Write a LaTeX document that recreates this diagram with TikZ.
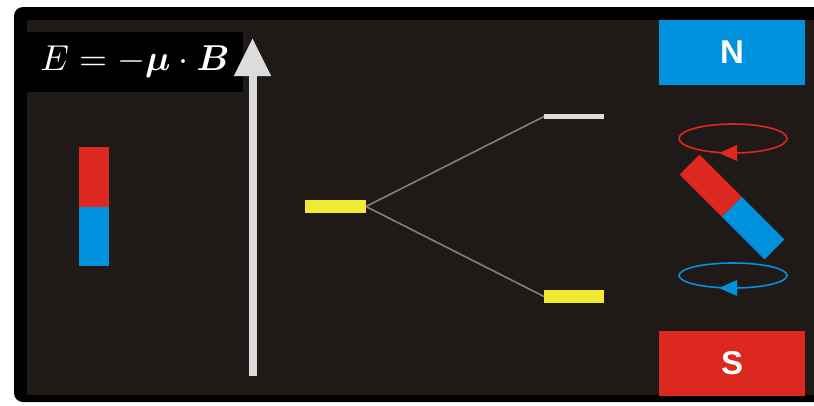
\documentclass[tikz,border=0pt]{standalone}
\usepackage{fontspec}
\usepackage{amsmath}
\usepackage{bm}
\usepackage{graphicx}
\newfontfamily\polefont{Liberation Sans}
\usetikzlibrary{arrows.meta}

\definecolor{panel}{RGB}{31,26,23}
\definecolor{magred}{RGB}{220,40,30}
\definecolor{magblue}{RGB}{0,146,221}
\definecolor{levelyellow}{RGB}{240,235,50}
\definecolor{fieldgray}{RGB}{220,220,220}
\definecolor{splitgray}{RGB}{130,128,125}

\begin{document}
\begin{tikzpicture}[x=1pt,y=-1pt,
  block/.style={rectangle,inner sep=0pt,outer sep=0pt,draw=none},
  level/.style={block,fill=levelyellow,minimum width=60pt,minimum height=13pt},
  pole/.style={block,minimum width=146pt,minimum height=65pt,text=white,
    font=\polefont\bfseries\fontsize{33}{36}\selectfont},
  split/.style={splitgray,line width=1.6pt},
  orbit/.style={line width=1.6pt}]
  \useasboundingbox (0,0) rectangle (814,405);

  % frame and dark panel
  \fill[black,rounded corners=9pt] (14,7) rectangle (840,402);
  \fill[panel] (27,20) rectangle (814,395);

  % energy formula
  \node[block,fill=black,minimum width=216pt,minimum height=60pt,anchor=north west]
    (formula) at (27,32) {};
  \node[text=white,inner sep=0pt] (eq) at (135,62)
    {\scalebox{3.6}{$E = -\bm{\mu}\cdot\bm{B}$}};

  % field axis arrow
  \coordinate (fieldbase) at (252.5,376);
  \coordinate (fieldtip) at (252.5,38);
  \draw[fieldgray,line width=8pt,-{Triangle[width=35pt,length=38pt]}]
    (fieldbase) -- (fieldtip);

  % bar magnet on the left
  \node[block,fill=magred,minimum width=30pt,minimum height=60pt] (barN) at (94,177) {};
  \node[block,fill=magblue,minimum width=30pt,minimum height=59pt,anchor=north] (barS) at (barN.south) {};

  % energy levels and their splitting
  \node[level,minimum width=61pt] (lvl0) at (335.5,206.5) {};
  \node[block,fill=fieldgray,minimum width=60pt,minimum height=5pt] (lvlup) at (574,116.5) {};
  \node[level] (lvldown) at (574,296.5) {};
  \draw[split] (lvl0.east) -- (lvlup.west);
  \draw[split] (lvl0.east) -- (lvldown.west);

  % magnet poles
  \node[pole,fill=magblue] (north) at (732,52.5) {N};
  \node[pole,fill=magred] (south) at (732,363) {S};

  % precessing tilted magnet
  \node[block,fill=magred,minimum width=60pt,minimum height=28pt,rotate=-45] (tiltN) at (710.8,185.8) {};
  \node[block,fill=magblue,minimum width=60pt,minimum height=28pt,rotate=-45] (tiltS) at (753.2,228.2) {};

  % precession orbits
  \draw[magred,orbit] (733,138.5) ellipse [x radius=54pt,y radius=14.5pt];
  \fill[magred] (719,153) -- (737,145) -- (737,161) -- cycle;
  \draw[magblue,orbit] (733,275.5) ellipse [x radius=54pt,y radius=12.5pt];
  \fill[magblue] (719,288) -- (737,280) -- (737,296) -- cycle;
\end{tikzpicture}
\end{document}
